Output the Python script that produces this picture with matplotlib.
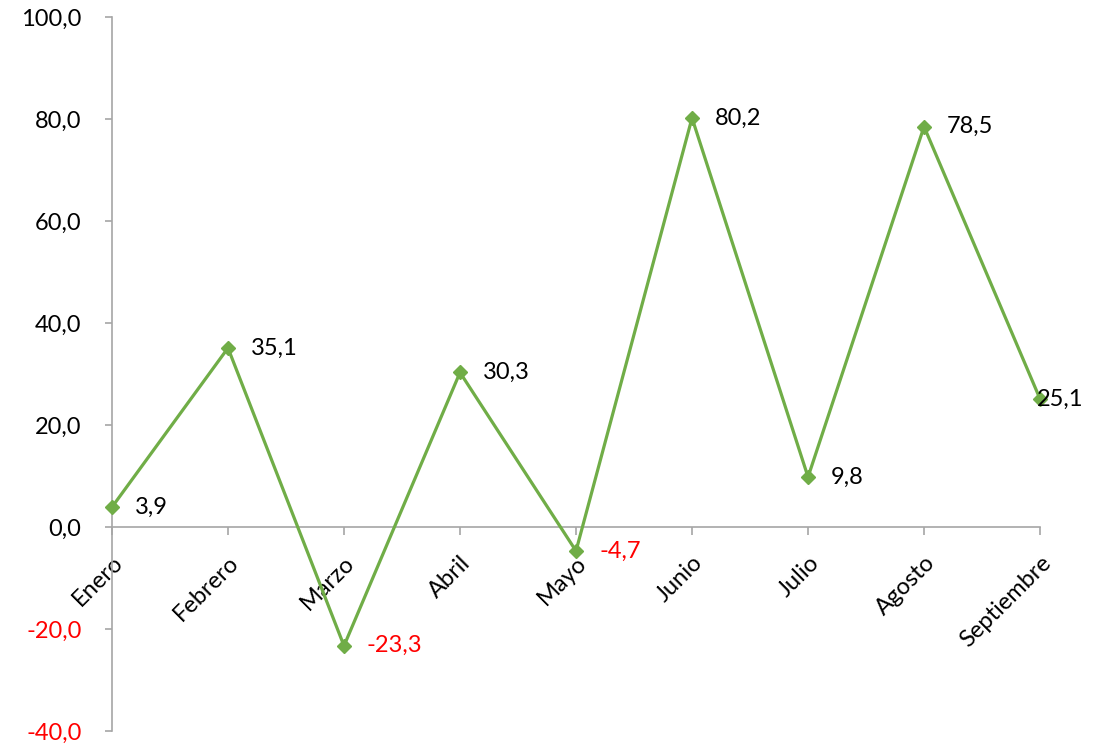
import matplotlib
matplotlib.use("Agg")
import matplotlib.pyplot as plt

# data
months = ["Enero", "Febrero", "Marzo", "Abril", "Mayo", "Junio", "Julio", "Agosto", "Septiembre"]
values = [3.9, 35.1, -23.3, 30.3, -4.7, 80.2, 9.8, 78.5, 25.1]
yticks = [-40, -20, 0, 20, 40, 60, 80, 100]

plt.rcParams['font.family'] = ['Lato', 'DejaVu Sans']

def fmt(v):
	return f"{v:.1f}".replace(".", ",")

fig = plt.figure(figsize=(11.12, 7.45), dpi=100)
ax = fig.add_axes([0.1007, 0.0188, 0.8346, 0.9584])

green = "#70AD47"
grey = "#A6A6A6"
x = list(range(len(months)))

ax.plot(x, values, color=green, lw=2.3, marker="D", ms=7.5, zorder=3, clip_on=False)

# data labels right of the points
for i, v in enumerate(values):
	dx = 23 if i < len(values) - 1 else -3
	ax.annotate(fmt(v), (i, v), xytext=(dx, 0), textcoords="offset pixels",
		ha="left", va="center", fontsize=17, color="red" if v < 0 else "black")

ax.set_xlim(0, len(months) - 1)
ax.set_ylim(-40, 100)

# axes look
for s in ["top", "right"]:
	ax.spines[s].set_visible(False)
ax.spines["left"].set_color(grey)
ax.spines["bottom"].set_color(grey)
ax.spines["bottom"].set_position(("data", 0))
ax.spines["left"].set_linewidth(1.2)
ax.spines["bottom"].set_linewidth(1.2)

ax.set_yticks(yticks)
ax.set_yticklabels([fmt(t) for t in yticks], fontsize=17)
for lab, t in zip(ax.get_yticklabels(), yticks):
	if t < 0:
		lab.set_color("red")
ax.tick_params(axis="y", direction="out", length=5, color=grey, width=1.2, pad=17)

ax.set_xticks(x)
ax.set_xticklabels(months, fontsize=17, rotation=45, ha="right", va="top", rotation_mode="anchor")
ax.tick_params(axis="x", direction="out", length=6, color=grey, width=1.2, pad=12)

fig.savefig("out.png", dpi=100)
